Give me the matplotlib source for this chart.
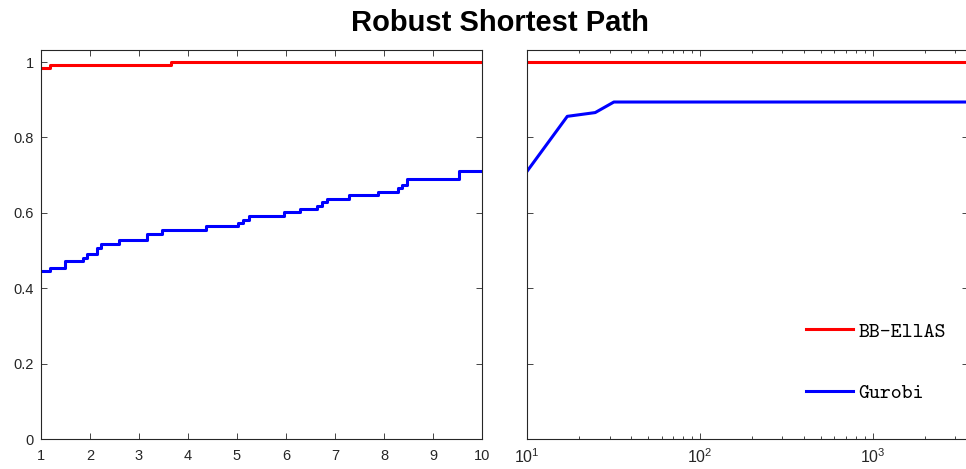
import matplotlib

matplotlib.use("Agg")
import matplotlib.pyplot as plt
from matplotlib.ticker import FixedLocator, FormatStrFormatter, LogLocator, NullFormatter

plt.rcParams["font.family"] = ["Liberation Sans", "DejaVu Sans"]
plt.rcParams["mathtext.fontset"] = "custom"
plt.rcParams["mathtext.rm"] = "Liberation Sans"
plt.rcParams["mathtext.default"] = "regular"

# performance profile, left panel (tau from 1 to 10)
tau_left = [1, 1.18, 1.49, 1.86, 1.94, 2.15, 2.22, 2.6, 3.16, 3.46, 4.36, 5.03, 5.13,
            5.25, 5.95, 6.29, 6.63, 6.73, 6.84, 7.29, 7.87, 8.28, 8.36, 8.46, 9.53, 10]
gurobi_left = [0.446, 0.454, 0.472, 0.481, 0.491, 0.508, 0.518, 0.527, 0.544, 0.554,
               0.564, 0.573, 0.582, 0.591, 0.602, 0.610, 0.619, 0.628, 0.637, 0.647,
               0.656, 0.665, 0.674, 0.691, 0.710, 0.710]
tau_ellas_left = [1, 1.18, 3.65, 10]
ellas_left = [0.984, 0.993, 1.0, 1.0]

# right panel (log tau from 10 on)
tau_right = [10, 17.1, 24.8, 31.8, 3550]
gurobi_right = [0.710, 0.856, 0.866, 0.894, 0.894]
tau_ellas_right = [10, 3550]
ellas_right = [1.0, 1.0]

labels = ["BB-EllAS", "Gurobi"]
RED, BLUE = "#ff0000", "#0000ff"
AX_COL = "#262626"

W, H = 966, 469
fig = plt.figure(figsize=(W / 100, H / 100), dpi=100)
ax1 = fig.add_axes([41 / W, (H - 439) / H, 441 / W, 389 / H])
ax2 = fig.add_axes([527 / W, (H - 439) / H, 441 / W, 389 / H])

ax1.step(tau_ellas_left, ellas_left, where="post", color=RED, lw=2.2)
ax1.step(tau_left, gurobi_left, where="post", color=BLUE, lw=2.2)
ax1.set_xlim(1, 10)
ax1.set_ylim(0, 1.032)
ax1.xaxis.set_major_locator(FixedLocator(range(1, 11)))
ax1.yaxis.set_major_locator(FixedLocator([0, 0.2, 0.4, 0.6, 0.8, 1]))
ax1.yaxis.set_major_formatter(FormatStrFormatter("%g"))

ax2.plot(tau_ellas_right, ellas_right, color=RED, lw=2.2, label=labels[0])
ax2.plot(tau_right, gurobi_right, color=BLUE, lw=2.2, label=labels[1])
ax2.set_xscale("log")
ax2.set_xlim(10, 3550)
ax2.set_ylim(0, 1.032)
ax2.xaxis.set_major_locator(LogLocator(base=10, numticks=10))
ax2.xaxis.set_minor_locator(LogLocator(base=10, subs=range(2, 10), numticks=20))
ax2.xaxis.set_minor_formatter(NullFormatter())
ax2.yaxis.set_major_locator(FixedLocator([0, 0.2, 0.4, 0.6, 0.8, 1]))
ax2.tick_params(axis="y", labelleft=False)

for ax in (ax1, ax2):
    for s in ax.spines.values():
        s.set_color(AX_COL)
        s.set_linewidth(0.8)
    ax.tick_params(which="both", direction="in", top=True, right=True,
                   color=AX_COL, labelcolor=AX_COL, labelsize=10.5, width=0.6)
    ax.tick_params(which="major", length=4)
    ax.tick_params(which="minor", length=2.5)
    ax.tick_params(axis="x", pad=7)
    ax.tick_params(axis="y", pad=5)
ax2.tick_params(axis="x", labelsize=11.5, pad=6)

ax2.legend(loc="upper left", bbox_to_anchor=(806 / W, 1 - 322 / H),
           bbox_transform=fig.transFigure, frameon=False, borderpad=0,
           borderaxespad=0, handlelength=2.26, handletextpad=0.24,
           labelspacing=2.0, prop={"family": "cmtt10", "size": 15})

fig.text(500 / W, 1 - 23 / H, "Robust Shortest Path", ha="center", va="center",
         fontsize=21, fontweight="bold", color="black")

fig.savefig("out.png", dpi=100)
